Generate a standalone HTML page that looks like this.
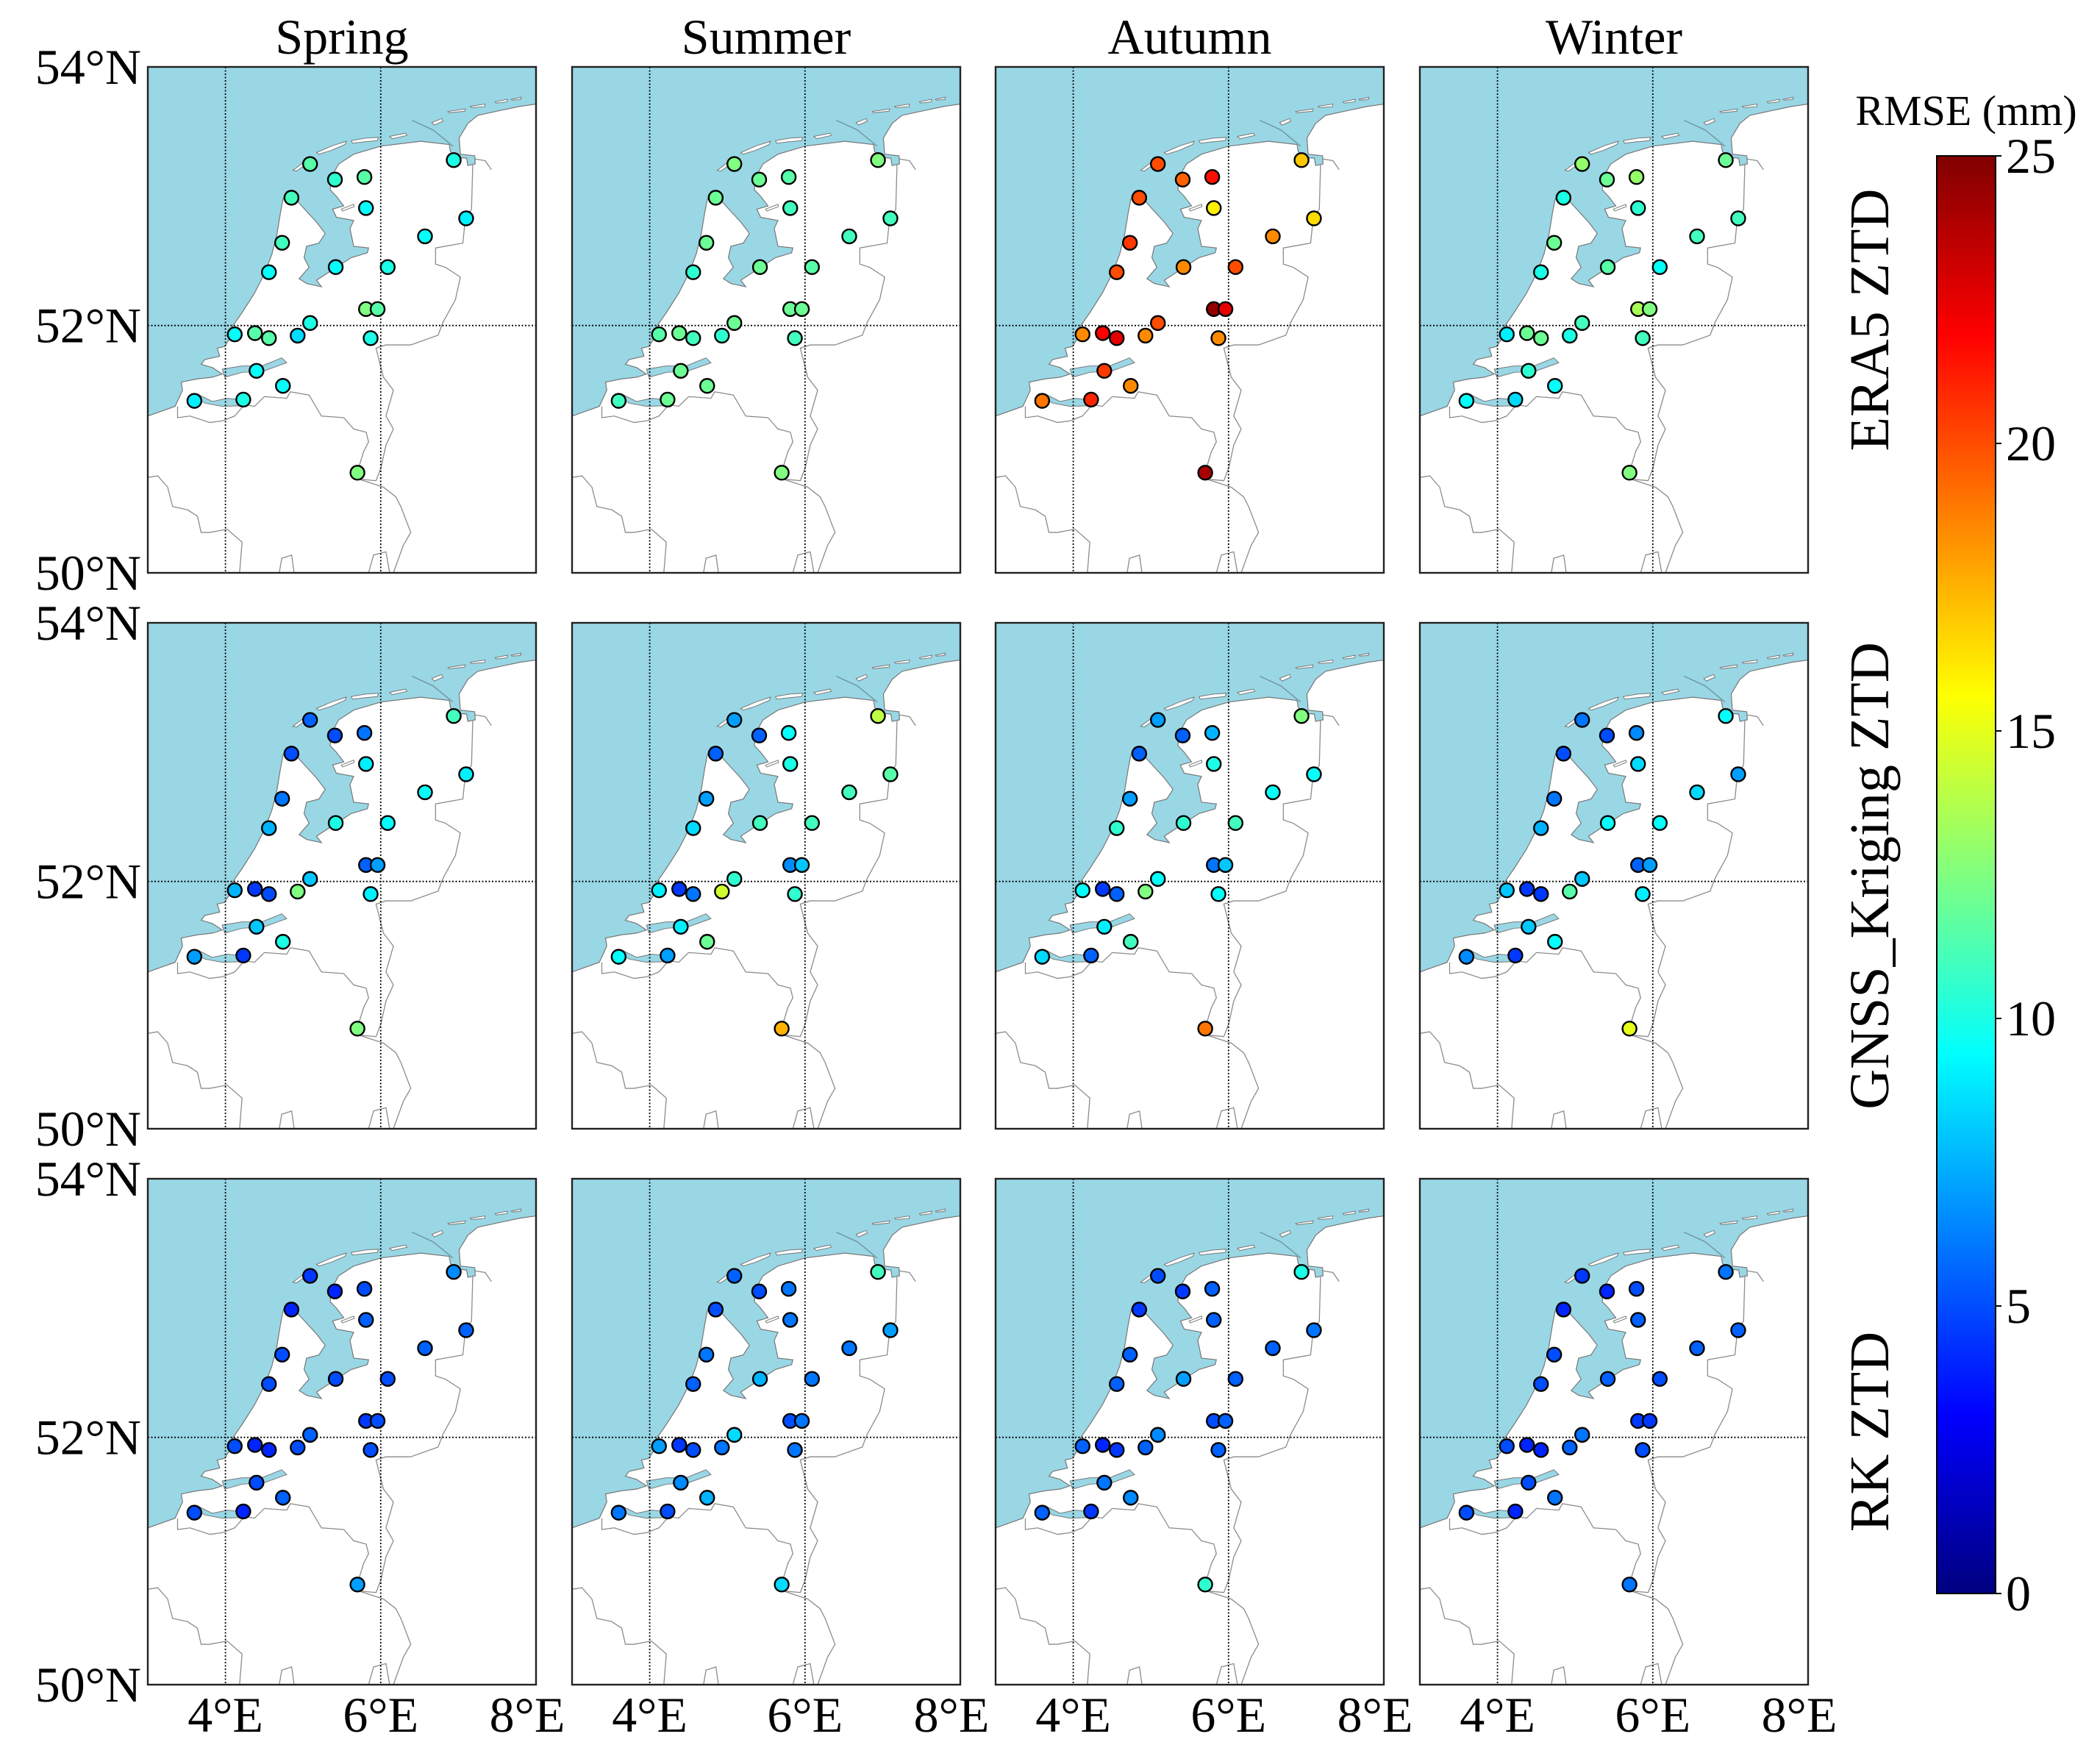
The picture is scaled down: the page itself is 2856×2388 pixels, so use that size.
<!DOCTYPE html>
<html><head><meta charset="utf-8"><title>RMSE maps</title>
<style>
html,body{margin:0;padding:0;background:#fff;}
svg{display:block;font-family:"Liberation Serif",serif;}
</style></head>
<body>
<svg id="fig" xmlns="http://www.w3.org/2000/svg" width="2856" height="2388" viewBox="0 0 2856 2388">
<defs>
<g id="basemap">
  <rect x="0" y="0" width="1565" height="1565" fill="#99d7e5"/>
  <path d="M0,1080 L110,1050 L140,1000 L135,975 L200,965 L260,960 L300,950 L260,930 L215,920 L230,905 L290,895 L280,870 L310,865 L330,840 L335,810 L380,760 L430,700 L470,640 L500,580 L520,520 L535,450 L545,410 L560,385 L580,395 L620,430 L680,480 L715,515 L690,545 L640,555 L630,590 L650,620 L610,655 L640,670 L700,680 L680,660 L720,640 L780,610 L820,590 L885,575 L890,560 L830,555 L815,500 L830,475 L760,465 L745,440 L790,430 L760,400 L735,380 L740,340 L770,300 L830,270 L940,245 L1100,230 L1215,240 L1220,262 L1245,280 L1285,282 L1290,305 L1320,300 L1318,275 L1260,270 L1255,220 L1290,175 L1330,150 L1420,135 L1500,122 L1565,115 L1565,1565 L0,1565 Z" fill="#fff" stroke="#777" stroke-width="1.2" vector-effect="non-scaling-stroke"/>
  <path d="M190,1020 L230,1040 L300,1050 L380,1048 L385,1030 L320,1025 L260,1035 L200,1012 Z" fill="#99d7e5" stroke="#777" stroke-width="1" vector-effect="non-scaling-stroke"/>
  <path d="M300,935 L380,925 L460,925 L540,900 L560,915 L470,940 L380,945 L310,960 Z" fill="#99d7e5" stroke="#777" stroke-width="1" vector-effect="non-scaling-stroke"/>
  <g fill="#fff" stroke="#777" stroke-width="1" vector-effect="non-scaling-stroke">
    <path d="M585,320 L620,300 L650,280 L640,300 L600,322 Z" vector-effect="non-scaling-stroke"/>
    <path d="M680,265 L740,245 L800,230 L795,240 L740,258 L690,270 Z" vector-effect="non-scaling-stroke"/>
    <path d="M820,228 L880,220 L930,218 L925,228 L870,232 L825,236 Z" vector-effect="non-scaling-stroke"/>
    <path d="M975,215 L1040,205 L1045,212 L985,222 Z" vector-effect="non-scaling-stroke"/>
    <path d="M1145,172 L1185,160 L1190,168 L1155,180 Z" vector-effect="non-scaling-stroke"/>
    <path d="M1210,138 L1280,130 L1278,137 L1215,142 Z" vector-effect="non-scaling-stroke"/>
    <path d="M1300,122 L1360,115 L1358,123 L1305,126 Z" vector-effect="non-scaling-stroke"/>
    <path d="M1400,108 L1450,100 L1448,108 L1405,112 Z" vector-effect="non-scaling-stroke"/>
    <path d="M1465,100 L1505,94 L1503,101 L1468,103 Z" vector-effect="non-scaling-stroke"/>
    <path d="M780,440 L830,425 L832,432 L785,446 Z" vector-effect="non-scaling-stroke"/>
  </g>
  <g fill="none" stroke="#8c8c8c" stroke-width="1.3" vector-effect="non-scaling-stroke">
    <polyline vector-effect="non-scaling-stroke" points="120,1050 120,1085 170,1080 250,1100 300,1095 350,1080 390,1045 430,1050 470,1020 560,1025 575,1005 650,1015 700,1080 790,1085 830,1120 880,1130 890,1160 870,1190 850,1240 850,1275 920,1280 940,1240 960,1170 990,1120 960,1080 990,1000 950,960 930,900 920,870 960,860 1060,860 1170,830 1190,790 1240,720 1260,650 1200,620 1160,610 1160,560 1270,545 1280,470 1305,440 1310,300"/>
    <polyline vector-effect="non-scaling-stroke" points="850,1275 950,1300 1000,1330 1020,1360 1060,1440 1030,1480 990,1565"/>
    <polyline vector-effect="non-scaling-stroke" points="0,1270 40,1265 80,1300 100,1360 160,1370 200,1390 215,1440 250,1440 320,1430 380,1470 370,1565"/>
    <polyline vector-effect="non-scaling-stroke" points="530,1565 540,1520 580,1510 590,1565"/>
    <polyline vector-effect="non-scaling-stroke" points="890,1565 910,1510 960,1500 975,1565"/>
    <polyline vector-effect="non-scaling-stroke" points="1320,285 1360,290 1385,318"/>
    <polyline vector-effect="non-scaling-stroke" stroke="#6f8f99" points="1065,165 1150,195 1230,245"/>
  </g>
</g>
</defs>
<g id="panels"></g>
<g id="colorbar"></g>
</svg>
<script>
// ---- data ----
const seasons = ["Spring","Summer","Autumn","Winter"];
const rowLabels = ["ERA5 ZTD","GNSS_Kriging ZTD","RK ZTD"];
const stationLon = [5.09,5.41,5.79,4.85,5.81,6.94,7.10,6.57,4.73,4.56,5.42,6.09,5.81,5.96,5.09,4.12,4.38,4.56,4.93,5.87,4.40,4.74,3.60,4.23,5.70];
const stationLat = [53.26,53.14,53.16,53.00,52.92,53.29,52.84,52.70,52.65,52.42,52.46,52.46,52.13,52.13,52.02,51.93,51.94,51.90,51.92,51.90,51.64,51.52,51.40,51.41,50.82];
const era5Spring = [11.5,10.5,11.5,11,9.5,10,9,9.5,11,9.5,9.5,10,12.5,11.5,10,9.5,11.5,11.5,8.5,10,9.5,9.5,9,10,12.5];
const era5Summer = [12.5,12,11.5,12,11,12.5,11,11,12,10.5,12,11.5,12,12,12,11.5,12,11,10.5,11,12,12,11,12,12.5];
const era5Autumn = [20,19.5,21.5,20,16,17,16.5,18.5,20.5,20,18.5,20,24.5,22.5,20,18.5,22,22.5,18.5,18.5,20.5,18.5,19,21,24];
const era5Winter = [13,12,13,10,10.5,12,11,11,12,10,11.5,9.5,13.5,12.5,11,9,12,12,10,11,10.5,9.5,9.5,8.5,12.5];
const krigSpring = [5.5,5,6,5,9,11,9,9.5,6,7.5,10,9.5,5.5,7,8,7.5,4.5,5,12.5,9,8,10,7,4.5,12.5];
const krigSummer = [7,5.5,9.5,5.5,10,14,11.5,11,7,8.5,11,11,6.5,8,10.5,9,4.5,6,14.5,10.5,9,12,9.5,7,17.5];
const krigAutumn = [7,5.5,7.5,5.5,10,12.5,9.5,9.5,7,10.5,10.5,11,6,8,9.5,9.5,4.5,5.5,12.5,9.5,9,11,8.5,5.5,19];
const krigWinter = [6,5,6.5,5,8.5,9.5,7,8.5,6,7.5,9.5,9.5,5.5,7,8,8,4.5,4.5,11.5,9,8,9.5,6.5,4.5,15];
const rkSpring = [4.5,4,5,4,5.5,6.5,5.5,5.5,5,5,5,5,4.5,5,5.5,5,4,4,5,5,5,5.5,5,4,7];
const rkSummer = [5.5,5,6,5,6,11,7,6,6,5.5,7.5,6,5,6,8.5,7,4.5,5,6,6,6.5,7.5,6,5,8.5];
const rkAutumn = [5,4.5,5.5,4.5,5.5,10,6,5.5,5.5,5.5,7,5.5,5,5.5,6.5,5.5,4,4.5,5.5,5.5,6,6.5,5.5,4.5,10.5];
const rkWinter = [4.5,4,5,4,5.5,6,5.5,5.5,5,5,5.5,5,4.5,4.5,6,5,4,4,5.5,5,5,6,5,4,6];
const lonTicks = [4,6,8];
const latTicks = [54,52,50];
const cbTicks = [0,5,10,15,20,25];
const panelValues = [
  [era5Spring,era5Summer,era5Autumn,era5Winter],
  [krigSpring,krigSummer,krigAutumn,krigWinter],
  [rkSpring,rkSummer,rkAutumn,rkWinter]
];

// ---- layout ----
const NS = "http://www.w3.org/2000/svg";
const colX = [201,778,1354,1931];
const rowY = [91,847,1603];
const PW = 528, PH = 688;
const LON0 = 3, LON1 = 8, LAT0 = 50, LAT1 = 54;
const VMIN = 0, VMAX = 25;
function merc(lat){return Math.log(Math.tan(Math.PI/4 + lat*Math.PI/360));}
function xScale(lon, x0){return x0 + (lon-LON0)/(LON1-LON0)*PW;}
function yScale(lat, y0){return y0 + (merc(LAT1)-merc(lat))/(merc(LAT1)-merc(LAT0))*PH;}
function jet(v){
  const t = Math.max(0, Math.min(1, (v-VMIN)/(VMAX-VMIN)));
  const c = x => Math.round(255*Math.max(0, Math.min(1, x)));
  return `rgb(${c(1.5-Math.abs(4*t-3))},${c(1.5-Math.abs(4*t-2))},${c(1.5-Math.abs(4*t-1))})`;
}
function mk(tag, attrs, parent){
  const e = document.createElementNS(NS, tag);
  for (const k in attrs) e.setAttribute(k, attrs[k]);
  parent.appendChild(e);
  return e;
}
const panels = document.getElementById("panels");

seasons.forEach((s, c) => {
  const t = mk("text", {x: colX[c]+PW/2, y: 73, "text-anchor": "middle", "font-size": 68, fill: "#000"}, panels);
  
  
  t.textContent = s;
});

rowLabels.forEach((lab, r) => {
  const cy = rowY[r] + PH/2;
  const t = mk("text", {x: 0, y: 0, transform: `translate(2568,${cy}) rotate(-90)`, "text-anchor": "middle", "font-size": 76, fill: "#000"}, panels);
  
  
  t.textContent = lab;
});

for (let r = 0; r < 3; r++) {
  for (let c = 0; c < 4; c++) {
    const x0 = colX[c], y0 = rowY[r];
    const g = mk("g", {}, panels);
    
    
    const base = mk("use", {href: "#basemap", transform: `translate(${x0},${y0}) scale(${PW/1565},${PH/1565})`}, g);
    
    
    lonTicks.slice(0,2).forEach(lon => {
      const l = mk("line", {x1: xScale(lon,x0), x2: xScale(lon,x0), y1: y0, y2: y0+PH, stroke: "#000", "stroke-width": 1.8, "stroke-dasharray": "2,2.5"}, g);
      
      
    });
    const pl = mk("line", {x1: x0, x2: x0+PW, y1: yScale(52,y0), y2: yScale(52,y0), stroke: "#000", "stroke-width": 1.8, "stroke-dasharray": "2,2.5"}, g);
    
    
    const vals = panelValues[r][c];
    stationLon.forEach((lon, i) => {
      const p = mk("circle", {cx: xScale(lon,x0), cy: yScale(stationLat[i],y0), r: 9.5, fill: jet(vals[i]), stroke: "#000", "stroke-width": 2.4}, g);
      
      
    });
    const fr = mk("rect", {x: x0, y: y0, width: PW, height: PH, fill: "none", stroke: "#222", "stroke-width": 2.4}, g);
    
    
    if (c === 0) {
      latTicks.forEach(lat => {
        const t = mk("text", {x: 192, y: yScale(lat,y0)+23, "text-anchor": "end", "font-size": 68, fill: "#000"}, g);
        
        
        t.textContent = lat + "°N";
      });
    }
    if (r === 2) {
      lonTicks.forEach(lon => {
        const xx = xScale(lon,x0) - (lon === 8 ? 12 : 0);
        const t = mk("text", {x: xx, y: 2355, "text-anchor": "middle", "font-size": 68, fill: "#000"}, g);
        
        
        t.textContent = lon + "°E";
      });
    }
  }
}

// ---- colorbar ----
const cb = document.getElementById("colorbar");


const CBX = 2634, CBY0 = 212, CBW = 80, CBY1 = 2167;
const defs = document.querySelector("defs");
const grad = mk("linearGradient", {id: "jetgrad", x1: 0, y1: 1, x2: 0, y2: 0}, defs);
for (let k = 0; k <= 40; k++) {
  mk("stop", {offset: k/40, "stop-color": jet(VMIN + (VMAX-VMIN)*k/40)}, grad);
}
const cbr = mk("rect", {x: CBX, y: CBY0, width: CBW, height: CBY1-CBY0, fill: "url(#jetgrad)", stroke: "#000", "stroke-width": 2}, cb);


function cbY(v){return CBY1 - (v-VMIN)/(VMAX-VMIN)*(CBY1-CBY0);}
cbTicks.forEach(v => {
  const tk = mk("line", {x1: CBX+CBW, x2: CBX+CBW+8, y1: cbY(v), y2: cbY(v), stroke: "#000", "stroke-width": 2}, cb);
  
  
  const t = mk("text", {x: CBX+CBW+14, y: cbY(v)+23, "font-size": 68, fill: "#000"}, cb);
  
  
  t.textContent = v;
});
const ct = mk("text", {x: 2674, y: 170, "text-anchor": "middle", "font-size": 58, fill: "#000"}, cb);


ct.textContent = "RMSE (mm)";
</script>
</body></html>
